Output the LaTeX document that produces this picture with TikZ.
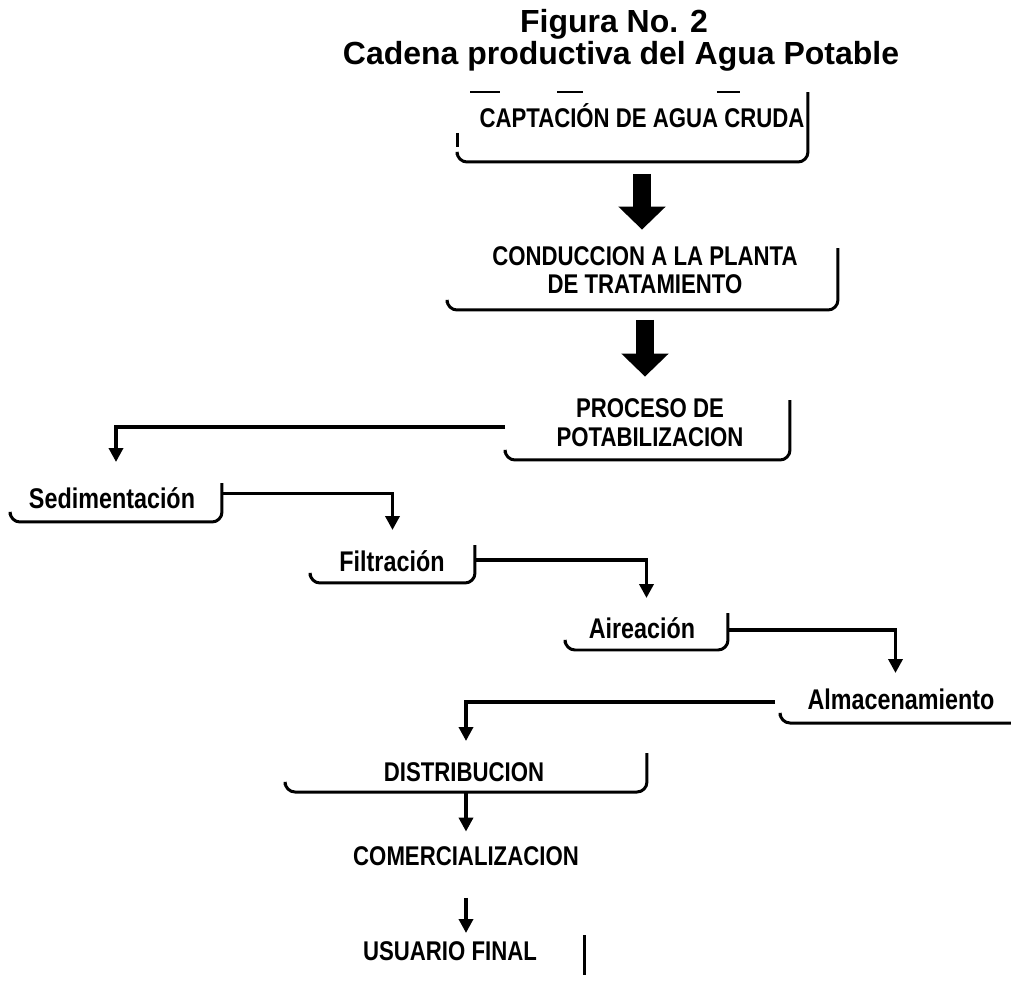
\documentclass[tikz,border=0pt]{standalone}
\usepackage{fontspec}
\setmainfont{Liberation Sans}
\newfontfamily\stepfont[FakeStretch=0.82]{Liberation Sans}
\usetikzlibrary{arrows.meta}

\begin{document}
\begin{tikzpicture}[x=0.02cm,y=-0.02cm,semithick,
    title/.style={font=\fontsize{18.2}{20}\selectfont\bfseries,anchor=base},
    stagetext/.style={font=\stepfont\fontsize{15.4}{16.5}\selectfont\bfseries,align=center,inner sep=0.04cm,anchor=base},
    subtext/.style={stagetext,font=\stepfont\fontsize{16.2}{17}\selectfont\bfseries},
    stage/.style={inner sep=0pt,outer sep=0pt},
    edge line/.style={line width=0.06cm,rounded corners=0.2cm},
    flow/.style={line width=0.07cm,-{Triangle[width=0.28cm,length=0.28cm]}},
    bigflow/.style={line width=0.36cm,-{Triangle[width=0.92cm,length=0.46cm]}}]

        \useasboundingbox (0,0) rectangle (1011,983);

        \node[title] (fig) at (614,33) {Figura No. 2};
        \node[title] (chain) at (621,65) {Cadena productiva del Agua Potable};

        \node[stage,minimum width=7.02cm,minimum height=1.4cm] (capbox) at (632.5,127) {};
        \node[stagetext] (capt) at (642,128) {CAPTACIÓN DE AGUA CRUDA};

        \node[stage,minimum width=7.82cm,minimum height=1.24cm] (condbox) at (642.5,279) {};
        \node[stagetext] (cond) at (645,294) {CONDUCCION A LA PLANTA\\DE TRATAMIENTO};

        \node[stage,minimum width=5.7cm,minimum height=1.2cm] (procbox) at (647.5,430) {};
        \node[stagetext] (proc) at (650,446) {PROCESO DE\\POTABILIZACION};

        \node[stage,minimum width=4.24cm,minimum height=0.78cm] (sedbox) at (116,502.5) {};
        \node[subtext] (sed) at (112,508) {Sedimentación};

        \node[stage,minimum width=3.3cm,minimum height=0.76cm] (filbox) at (392.5,564) {};
        \node[subtext] (fil) at (392,571) {Filtración};

        \node[stage,minimum width=3.26cm,minimum height=0.74cm] (airbox) at (646.5,631.5) {};
        \node[subtext] (air) at (642,638) {Aireación};

        \node[stage,minimum width=4.62cm,minimum height=0.7cm] (almbox) at (895.5,705.5) {};
        \node[subtext] (alm) at (901,709) {Almacenamiento};

        \node[stage,minimum width=7.24cm,minimum height=0.78cm] (distbox) at (466,772.5) {};
        \node[stagetext] (dist) at (464,781) {DISTRIBUCION};

        \node[stagetext] (com) at (466,865) {COMERCIALIZACION};

        \node[stage,minimum width=4.8cm,minimum height=0.8cm] (usubox) at (465,955) {};
        \node[stagetext] (usu) at (450,960) {USUARIO FINAL};

        % open box outlines
        \draw[line width=0.03cm,dash pattern=on 0.6cm off 1.14cm on 0.52cm off 2.68cm on 0.46cm off 2cm]
            ([xshift=0.26cm]capbox.north west) -- (capbox.north east);
        \draw[edge line] ([yshift=-0.12cm]capbox.west) -- ++(0,14);
        \draw[edge line] ([yshift=0.14cm]capbox.south west) -- (capbox.south west) -- (capbox.south east) -- (capbox.north east);
        \draw[edge line] ([yshift=0.14cm]condbox.south west) -- (condbox.south west) -- (condbox.south east) -- (condbox.north east);
        \draw[edge line] ([yshift=0.14cm]procbox.south west) -- (procbox.south west) -- (procbox.south east) -- (procbox.north east);
        \draw[edge line] ([yshift=0.14cm]sedbox.south west) -- (sedbox.south west) -- (sedbox.south east) -- (sedbox.north east);
        \draw[edge line] ([yshift=0.14cm]filbox.south west) -- (filbox.south west) -- (filbox.south east) -- (filbox.north east);
        \draw[edge line] ([yshift=0.14cm]airbox.south west) -- (airbox.south west) -- (airbox.south east) -- (airbox.north east);
        \draw[edge line] ([yshift=0.14cm]almbox.south west) -- (almbox.south west) -- (almbox.south east);
        \draw[edge line] ([yshift=0.14cm]distbox.south west) -- (distbox.south west) -- (distbox.south east) -- (distbox.north east);
        \draw[edge line] (usubox.north east) -- (usubox.south east);

        % connectors
        \draw[bigflow,shorten <=0.86cm,shorten >=0.28cm] (capt.south) -- (capt.south |- cond.north);
        \draw[bigflow,shorten <=0.46cm,shorten >=0.38cm] (cond.south) -- (cond.south |- proc.north);
        \draw[flow,shorten >=0.42cm] ([yshift=0.06cm]procbox.west) -| (sedbox.north);
        \draw[flow,shorten >=0.3cm] ([yshift=0.18cm]sedbox.east) -| (filbox.north);
        \draw[flow,shorten >=0.3cm] ([yshift=0.08cm]filbox.east) -| (airbox.north);
        \draw[flow,shorten >=0.3cm] ([yshift=0.03cm]airbox.east) -| (almbox.north);
        \draw[flow,shorten >=0.24cm] ([shift={(-0.1cm,0.07cm)}]almbox.west) -| (distbox.north);
        \draw[flow,shorten >=0.24cm] (distbox.south) -- (distbox.south |- com.north);
        \draw[flow,shorten <=0.6cm,shorten >=0.04cm] (distbox.south |- com.south) -- (distbox.south |- usubox.north);
\end{tikzpicture}
\end{document}
